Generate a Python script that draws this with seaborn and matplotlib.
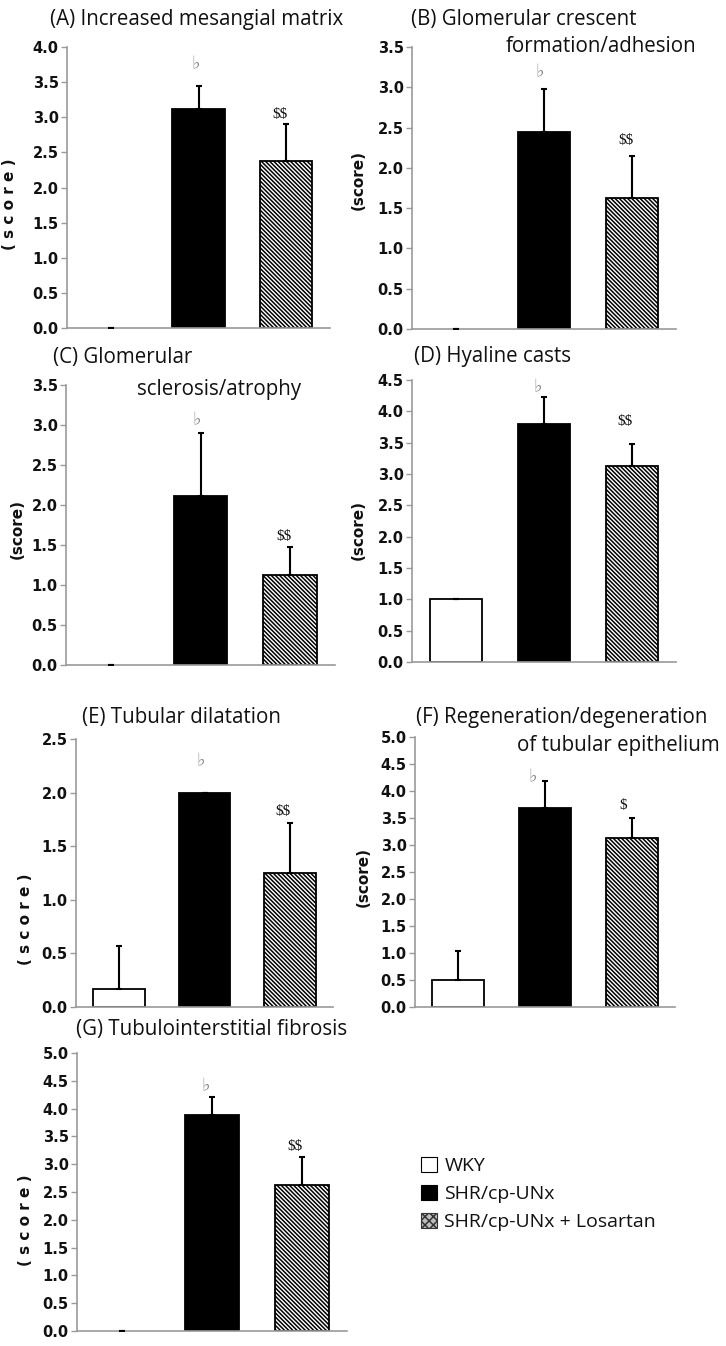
import matplotlib
matplotlib.use("Agg")
import matplotlib.pyplot as plt
from matplotlib.patches import Patch
import numpy as np
import pandas as pd
import seaborn as sns

# ---------------- data ----------------
groups = ["WKY", "SHR/cp-UNx", "SHR/cp-UNx + Losartan"]

vals_A = [0.0, 3.12, 2.38]
err_A = [0.0, 0.33, 0.52]
vals_B = [0.0, 2.44, 1.62]
err_B = [0.0, 0.54, 0.53]
vals_C = [0.0, 2.11, 1.13]
err_C = [0.0, 0.79, 0.35]
vals_D = [1.00, 3.80, 3.13]
err_D = [0.0, 0.43, 0.35]
vals_E = [0.17, 2.00, 1.25]
err_E = [0.40, 0.0, 0.47]
vals_F = [0.50, 3.68, 3.13]
err_F = [0.54, 0.51, 0.37]
vals_G = [0.0, 3.88, 2.63]
err_G = [0.0, 0.33, 0.50]

ymax = [4.0, 3.5, 3.5, 4.5, 2.5, 5.0, 5.0]
sig_shr = ["\u266d"] * 7
sig_los = ["$$", "$$", "$$", "$$", "$$", "$", "$$"]

title_lines = [
    ["(A) Increased mesangial matrix"],
    ["(B) Glomerular crescent", "formation/adhesion"],
    ["(C) Glomerular", "sclerosis/atrophy"],
    ["(D) Hyaline casts"],
    ["(E) Tubular dilatation"],
    ["(F) Regeneration/degeneration", "of tubular epithelium"],
    ["(G) Tubulointerstitial fibrosis"],
]
ylabels = ["( s c o r e )", "(score)", "(score)", "(score)",
           "( s c o r e )", "(score)", "( s c o r e )"]

all_vals = [vals_A, vals_B, vals_C, vals_D, vals_E, vals_F, vals_G]
all_errs = [err_A, err_B, err_C, err_D, err_E, err_F, err_G]

# ---------------- layout (pixels) ----------------
W, H = 726, 1346
boxes = [  # x0, x1, ytop, ybottom
    (67, 330, 47, 328),
    (412, 676, 47, 329),
    (66, 335, 385, 665),
    (412, 676, 380, 662),
    (76, 333, 739, 1007),
    (415, 675, 737, 1007),
    (77, 347, 1053, 1331),
]
ylabel_pos = [(17, 204), (366, 180), (25, 529), (366, 530),
              (33, 919), (371, 877), (33, 1220)]
title_pos = [
    [(50, 20)],
    [(411, 20), (506, 47)],
    [(53, 358), (137, 389)],
    [(414, 357)],
    [(82, 717)],
    [(416, 717), (517, 745)],
    [(76, 1030)],
]
# annotation offsets (pixels) relative to top of error bar
flat_off = [(-3, 21), (-4, 17), (-4, 13), (-6, 10), (-4, 31), (-12, 4), (-6, 11)]
dol_off = [(-6, 10), (-6, 15), (-6, 10), (-7, 22), (-7, 11), (-8, 12), (-7, 10)]

sns.set_theme(style="white")
plt.rcParams["font.family"] = ["DejaVu Sans"]
plt.rcParams["hatch.linewidth"] = 1.1
plt.rcParams["hatch.color"] = "black"

HATCH = "\\" * 8
TITLE_FONT = ["Open Sans", "DejaVu Sans"]
SPINE = "#9a9a9a"

fig = plt.figure(figsize=(W / 100, H / 100), dpi=100)

for i in range(7):
    x0, x1, yt, yb = boxes[i]
    ax = fig.add_axes([x0 / W, 1 - yb / H, (x1 - x0) / W, (yb - yt) / H])
    df = pd.DataFrame({"group": groups, "score": all_vals[i]})
    sns.barplot(data=df, x="group", y="score", hue="group", order=groups,
                hue_order=groups, palette=["white", "black", "white"],
                edgecolor="black", linewidth=1.3, width=0.6, legend=False,
                errorbar=None, ax=ax)
    for j, p in enumerate(ax.patches):
        if j == 2:
            p.set_hatch(HATCH)
        if p.get_height() == 0:
            p.set_linewidth(0)
    xs = np.arange(len(groups))
    v = np.array(all_vals[i])
    e = np.array(all_errs[i])
    ax.errorbar(xs, v, yerr=[np.zeros_like(e), e], fmt="none", ecolor="black",
                elinewidth=1.5, capsize=2.2, capthick=1.5, zorder=5)
    ax.set_xlim(-0.5, 2.5)
    ax.set_ylim(0, ymax[i])
    ax.set_yticks(np.arange(0, ymax[i] + 0.01, 0.5))
    ax.yaxis.set_major_formatter(matplotlib.ticker.FormatStrFormatter("%.1f"))
    ax.set_xticks([])
    ax.set_xlabel("")
    for s in ["top", "right"]:
        ax.spines[s].set_visible(False)
    for s in ["left", "bottom"]:
        ax.spines[s].set_color(SPINE)
        ax.spines[s].set_linewidth(1.2)
    ax.tick_params(axis="y", direction="out", length=4, width=1.0, color=SPINE,
                   pad=2, labelsize=10.5, left=True)
    for lab in ax.get_yticklabels():
        lab.set_fontweight("bold")
        lab.set_color("#111111")
    ax.set_ylabel(ylabels[i], fontsize=11, fontweight="bold", color="#111111")
    lx, ly = ylabel_pos[i]
    ax.yaxis.set_label_coords((lx - x0) / (x1 - x0), (yb - ly) / (yb - yt))
    # significance marks
    top = v + e
    ax.annotate(sig_shr[i], xy=(1, top[1]), xytext=flat_off[i],
                textcoords="offset pixels", ha="center", va="center",
                fontsize=13, color="#8a8a8a", family=["DejaVu Sans"])
    ax.annotate(sig_los[i].replace("$", r"\$"), xy=(2, top[2]), xytext=dol_off[i],
                textcoords="offset pixels", ha="center", va="center",
                fontsize=11, color="#111111", family=["Liberation Serif"])
    # titles
    for line, (tx, ty) in zip(title_lines[i], title_pos[i]):
        fig.text(tx / W, 1 - ty / H, line, ha="left", va="center",
                 fontsize=14.8, family=TITLE_FONT, color="#111111")

handles = [
    Patch(facecolor="white", edgecolor="black", linewidth=0.8),
    Patch(facecolor="black", edgecolor="black", linewidth=0.8),
    Patch(facecolor="#bdbdbd", edgecolor="#333333", linewidth=0.8, hatch="xxxx"),
]
leg = fig.legend(handles, groups, loc="upper left",
                 bbox_to_anchor=(421 / W, 1 - 1157 / H), frameon=False,
                 borderpad=0, borderaxespad=0, handlelength=0.8,
                 handleheight=0.8, handletextpad=0.4, labelspacing=0.5,
                 prop={"family": TITLE_FONT, "size": 14})
for t in leg.get_texts():
    t.set_color("#111111")

fig.savefig("out.png", dpi=100)
